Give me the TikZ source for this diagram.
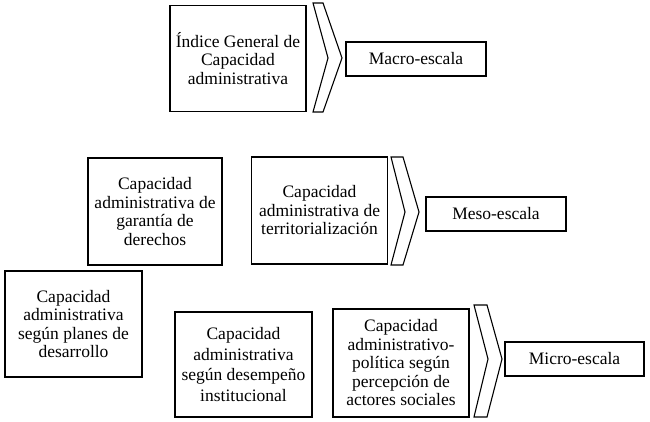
\documentclass[tikz,border=0pt]{standalone}
\usepackage{fontspec}
\setmainfont{Liberation Serif}
\begin{document}
\begin{tikzpicture}[x=1pt,y=-1pt,
  box/.style={draw, line width=1.5pt, align=center, inner sep=0pt,
    font=\fontsize{17.5}{18.5}\selectfont},
  bigbox/.style={box, minimum width=136pt, minimum height=106pt},
  scalebox/.style={box, minimum width=140pt, minimum height=34pt},
  chev/.style={draw, line width=1.1pt, line join=miter}]
\useasboundingbox (0,0) rectangle (650,422);
% top row
\node[bigbox] (idx) at (238,58.5) {Índice General de\\Capacidad\\administrativa};
\draw[chev] (313,3) -- (323,3) -- (342,58) -- (323,112) -- (313,112) -- (328,58) -- cycle;
\node[scalebox] (macro) at (416,59) {Macro-escala};
% middle row
\node[bigbox, minimum width=134pt, minimum height=107pt] (gar) at (155,211.5) {Capacidad\\administrativa de\\garantía de\\derechos};
\node[bigbox, minimum width=136pt, minimum height=107pt] (ter) at (319.5,210.5) {Capacidad\\administrativa de\\territorialización};
\draw[chev] (391,157) -- (403,157) -- (419,212) -- (403,265) -- (391,265) -- (405,212) -- cycle;
\node[scalebox] (meso) at (496,214) {Meso-escala};
% bottom row
\node[bigbox, minimum width=137pt] (plan) at (73.5,324) {Capacidad\\administrativa\\según planes de\\desarrollo};
\node[bigbox, minimum width=137pt, minimum height=105pt, font=\fontsize{17.5}{20.5}\selectfont] (des) at (243.5,364.5) {Capacidad\\administrativa\\según desempeño\\institucional};
\node[bigbox, minimum height=108pt] (act) at (401,363) {Capacidad\\administrativo-\\política según\\percepción de\\actores sociales};
\draw[chev] (474,305) -- (487,305) -- (502,359) -- (487,417) -- (474,417) -- (488,359) -- cycle;
\node[scalebox, minimum width=139pt] (micro) at (574.5,359) {Micro-escala};
\end{tikzpicture}
\end{document}
